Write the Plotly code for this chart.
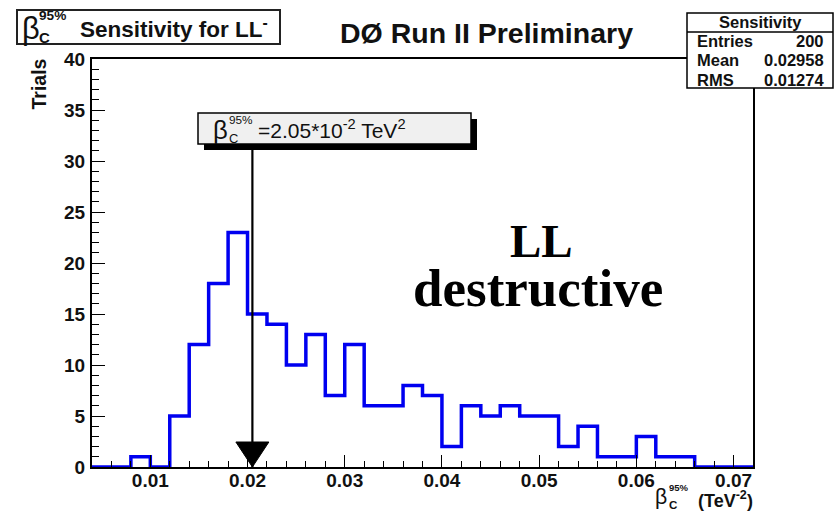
import numpy as np
import plotly.graph_objects as go

# Histogram of the 95% CL sensitivity on beta_C from pseudo-experiments
bin_lo = 0.004
bin_width = 0.002
trials = [0, 0, 1, 0, 5, 12, 18, 23, 15, 14, 10, 13, 7, 12, 6, 6, 8,
          7, 2, 6, 5, 6, 5, 5, 2, 4, 1, 1, 3, 1, 1, 0, 0, 0]
beta_limit = 0.0205          # quoted expected limit, 2.05*10^-2
stats_labels = ["Entries", "Mean", "RMS"]
stats_values = ["200", "0.02958", "0.01274"]
x_tick_vals = [0.01, 0.02, 0.03, 0.04, 0.05, 0.06, 0.07]
x_tick_text = ["0.01", "0.02", "0.03", "0.04", "0.05", "0.06", "0.07"]
y_tick_vals = [0, 5, 10, 15, 20, 25, 30, 35, 40]

edges = bin_lo + bin_width * np.arange(len(trials) + 1)
step_y = trials + [trials[-1]]

W, H = 838, 513
L, R, T, B = 92, 85, 59, 46
PW, PH = W - L - R, H - T - B


def px(x):
    return (x - L) / PW


def py(y):
    return (H - B - y) / PH


SANS = "Liberation Sans, Arial, Helvetica, sans-serif"
SERIF = "Liberation Serif, Times New Roman, serif"
BLUE = "#0000f0"

fig = go.Figure()
fig.add_trace(go.Scatter(
    x=edges, y=step_y, mode="lines", line=dict(shape="hv", color=BLUE, width=3.5),
    cliponaxis=False, hoverinfo="skip", showlegend=False))

axis_common = dict(showgrid=False, zeroline=False, showline=True, linecolor="black",
                   linewidth=2, mirror=True, ticks="inside", tickcolor="black",
                   tickwidth=1.2, tickfont=dict(family=SANS, size=19, color="#111", weight="bold"))

fig.update_xaxes(range=[edges[0], edges[-1]], tickvals=x_tick_vals, ticktext=x_tick_text,
                 ticklen=12, ticklabelstandoff=-5,
                 minor=dict(dtick=bin_width, tick0=0, ticks="inside", ticklen=6,
                            tickcolor="black", tickwidth=1.2),
                 **axis_common)
fig.update_yaxes(range=[0, 40], tickvals=y_tick_vals, ticklen=13, ticklabelstandoff=1,
                 minor=dict(dtick=1, ticks="inside", ticklen=7, tickcolor="black", tickwidth=1.2),
                 **axis_common)

shapes = []
# arrow marking the expected limit
shapes.append(dict(type="line", xref="x", yref="paper", x0=beta_limit, x1=beta_limit,
                   y0=0, y1=py(140), line=dict(color="black", width=2.2)))
shapes.append(dict(type="path", xref="x", yref="y", xsizemode="pixel", ysizemode="pixel",
                   xanchor=beta_limit, yanchor=0,
                   path="M -16.5,25 L 16.5,25 L 0,0 Z",
                   fillcolor="black", line=dict(color="black", width=1)))
# label box with drop shadow
shapes.append(dict(type="rect", xref="paper", yref="paper", x0=px(204), x1=px(477),
                   y0=py(150), y1=py(119), fillcolor="black", line=dict(width=0)))
shapes.append(dict(type="rect", xref="paper", yref="paper", x0=px(198), x1=px(471),
                   y0=py(144), y1=py(113), fillcolor="#f0f0f0",
                   line=dict(color="black", width=1.5)))
# histogram title box
shapes.append(dict(type="rect", xref="paper", yref="paper", x0=px(17), x1=px(280),
                   y0=py(44), y1=py(10), fillcolor="white",
                   line=dict(color="#222", width=2)))
# statistics box
shapes.append(dict(type="rect", xref="paper", yref="paper", x0=px(687), x1=px(833),
                   y0=py(88), y1=py(13), fillcolor="white",
                   line=dict(color="black", width=1.5)))
shapes.append(dict(type="line", xref="paper", yref="paper", x0=px(687), x1=px(833),
                   y0=py(32), y1=py(32), line=dict(color="black", width=1.5)))

ann = []


def text(x, y, s, size, xanchor="left", family=SANS, weight="normal", color="#111", angle=0,
         yanchor="middle"):
    ann.append(dict(x=px(x), y=py(y), xref="paper", yref="paper", text=s, showarrow=False,
                    xanchor=xanchor, yanchor=yanchor, textangle=angle,
                    font=dict(family=family, size=size, weight=weight, color=color)))


def beta_c(x, y, size, offset, weight="normal", beta_scale=1.25, sup_scale=0.62):
    # beta with stacked 95% superscript and C subscript
    text(x, y, "\u03b2", size * beta_scale, weight="normal")
    text(x + offset, y - size * 0.55, "95%", size * sup_scale, weight=weight)
    text(x + offset, y + size * 0.45, "C", size * 0.68, weight=weight)


# histogram title
beta_c(20, 28, 22, 17, weight="bold", beta_scale=1.4)
text(78, 28, "Sensitivity for LL<sup>-</sup>", 22.5, weight="bold")
# experiment label
text(487, 33, "D\u00d8 Run II Preliminary", 28.5, xanchor="center", weight="bold")
# limit label
beta_c(211, 130, 19, 16, beta_scale=1.35)
text(256, 129, "=2.05*10<sup>-2</sup> TeV<sup>2</sup>", 21)
# channel label
text(541, 241, "LL", 47, xanchor="center", family=SERIF, weight="bold", color="black")
text(538, 288, "destructive", 53, xanchor="center", family=SERIF, weight="bold", color="black")
# statistics
text(760, 22, "Sensitivity", 16.5, xanchor="center", weight="bold")
for i, (lab, val) in enumerate(zip(stats_labels, stats_values)):
    yy = 41 + 19.5 * i
    text(695, yy, lab, 16.5, weight="bold")
    text(826, yy, val, 16.5, xanchor="right", weight="bold")
# axis titles
text(38, 57, "Trials", 19.5, xanchor="center", yanchor="top", weight="bold", angle=-90)
beta_c(653, 497, 17, 14, weight="bold", sup_scale=0.56)
text(696, 499, "(TeV<sup>-2</sup>)", 18, weight="bold")

fig.update_layout(width=W, height=H, autosize=False,
                  margin=dict(l=L, r=R, t=T, b=B, pad=0),
                  paper_bgcolor="white", plot_bgcolor="white",
                  shapes=shapes, annotations=ann, showlegend=False)

fig.write_html("out.html")
